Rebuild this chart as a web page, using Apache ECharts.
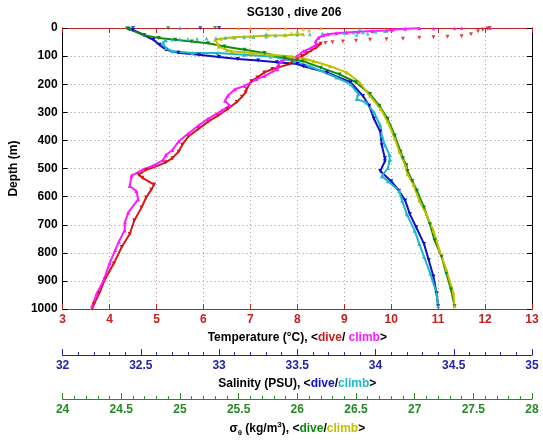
<!DOCTYPE html>
<html><head><meta charset="utf-8">
<script src="https://cdn.jsdelivr.net/npm/echarts@6/dist/echarts.min.js"></script>
<style>html,body{margin:0;padding:0;background:#fff}#c{width:543px;height:442px}</style>
</head><body><div id="c"></div>
<script>
// ---- data: [value, depth(m)] ----
const titleText = 'SG130 , dive 206';
const depthTicks = [0,100,200,300,400,500,600,700,800,900,1000];
const tempTicks = [3,4,5,6,7,8,9,10,11,12,13];
const salTicks = [32,32.5,33,33.5,34,34.5,35];
const sigTicks = [24,24.5,25,25.5,26,26.5,27,27.5,28];

const tempDiveTop = [[12.1,0],[12.05,2],[11.95,6],[11.85,12],[11.7,22],[11.5,29],[11.2,31],[10.9,33],[10.6,35],[10.25,38],[9.9,40],[9.55,42],[9.25,45],[8.97,48],[8.75,51],[8.6,53]];
const tempDive = [[8.5,56],[8.45,62],[8.4,70],[8.3,80],[8.2,90],[8.1,100],[8.0,110],[7.9,122],[7.84,128],[7.6,140],[7.47,146],[7.3,158],[7.15,176],[7.02,189],[6.92,218],[6.9,229],[6.82,245],[6.71,263],[6.52,288],[6.31,312],[6.1,333],[5.9,358],[5.68,386],[5.55,415],[5.47,440],[5.34,463],[5.2,478],[4.95,495],[4.78,504],[4.62,522],[4.7,533],[4.95,557],[4.89,575],[4.78,603],[4.68,639],[4.53,684],[4.43,733],[4.26,779],[4.09,838],[3.9,895],[3.78,944],[3.67,982],[3.63,998]];
const tempClimbTop = [[12.1,0],[11.5,0],[11.35,1],[10.9,2]];
const tempClimb = [[10.6,1],[10.3,3],[10.02,6],[9.9,9],[9.6,11],[9.3,13],[9.05,16],[8.83,19],[8.65,22],[8.56,25],[8.45,35],[8.39,48],[8.4,60],[8.3,70],[8.13,83],[7.99,101],[7.65,118],[7.58,136],[7.57,147],[7.3,171],[7.13,182],[6.88,206],[6.67,218],[6.52,241],[6.46,259],[6.56,276],[6.39,294],[6.1,323],[5.9,346],[5.68,375],[5.47,404],[5.34,434],[5.2,452],[5.14,470],[4.95,488],[4.7,505],[4.47,525],[4.43,562],[4.57,580],[4.61,610],[4.4,656],[4.33,691],[4.32,720],[4.2,760],[4.12,790],[4.0,838],[3.88,895],[3.73,944],[3.63,989]];

const salDiveTop = [[32.45,0],[33.0,0],[32.88,1]];
const salDive = [[32.42,3],[32.45,7],[32.52,25],[32.58,42],[32.62,60],[32.66,77],[32.74,88],[32.87,95],[33.0,103],[33.12,110],[33.25,116],[33.37,122],[33.5,128],[33.54,136],[33.69,158],[33.84,193],[33.92,242],[33.96,277],[33.99,323],[34.03,368],[34.04,417],[34.06,463],[34.06,474],[34.03,509],[34.1,545],[34.15,579],[34.19,614],[34.22,663],[34.26,709],[34.31,768],[34.34,825],[34.37,884],[34.39,944],[34.4,990]];
const salClimbTop = [[32.75,0],[33.9,3],[34.06,11],[34.0,13],[33.92,15],[33.86,16],[33.8,18],[33.95,20],[33.88,24],[33.66,20],[33.58,22],[33.5,23],[33.42,25],[33.36,27],[33.3,22],[33.3,30],[33.22,32],[33.16,33],[33.1,34],[33.04,35],[32.98,36],[32.92,37],[32.86,38],[32.8,39],[32.75,40],[32.7,41]];
const salClimb = [[32.66,44],[32.64,54],[32.66,71],[32.7,83],[32.83,89],[32.99,89],[33.16,95],[33.33,101],[33.48,118],[33.58,136],[33.75,176],[33.84,200],[33.89,235],[33.88,253],[33.94,265],[33.99,300],[34.03,346],[34.04,382],[34.06,417],[34.09,452],[34.09,470],[34.08,498],[34.04,527],[34.08,545],[34.15,579],[34.17,614],[34.2,663],[34.25,721],[34.28,768],[34.31,814],[34.35,873],[34.39,944],[34.4,990]];

const sigDiveTop = [[25.3,0],[24.9,1]];
const sigDive = [[24.55,2],[24.57,5],[24.69,25],[24.82,36],[24.96,42],[25.1,48],[25.24,54],[25.38,66],[25.55,77],[25.72,89],[25.89,106],[26.05,118],[26.2,141],[26.36,165],[26.5,193],[26.62,235],[26.7,277],[26.77,323],[26.83,382],[26.88,440],[26.9,463],[26.93,488],[26.94,509],[26.98,544],[27.02,579],[27.08,639],[27.13,698],[27.17,755],[27.23,814],[27.27,873],[27.31,930],[27.34,990]];
const sigClimbTop = [[25.5,0],[25.6,1],[25.75,2],[25.9,0],[26.05,3],[26.2,1],[26.1,8],[26.0,12],[25.95,18]];
const sigClimb = [[26.05,22],[25.9,26],[25.75,27],[25.6,30],[25.45,33],[25.35,38],[25.3,42],[25.32,55],[25.33,66],[25.4,78],[25.44,83],[25.61,89],[25.78,95],[25.95,101],[26.07,110],[26.14,118],[26.28,136],[26.42,158],[26.53,193],[26.62,242],[26.71,288],[26.77,333],[26.83,393],[26.87,440],[26.92,488],[26.94,520],[26.99,558],[27.04,614],[27.1,663],[27.16,721],[27.21,789],[27.27,860],[27.33,944],[27.34,990]];

// ---- styling ----
const FONT = 'Liberation Sans, Arial, sans-serif';
const RED = '#d21818', MAG = '#ff1aff', BLUE = '#1010c8', CYAN = '#20b8c8', GREEN = '#108a10', OLIVE = '#c0c000';
const AX_RED = '#c42020', AX_BLUE = '#2323a8', AX_GREEN = '#258a25';

function lineSeries(name, data, xi, color, dive) {
  return { name, type: 'line', data, xAxisIndex: xi, yAxisIndex: 0, showSymbol: true,
    symbol: 'triangle', symbolRotate: dive ? 180 : 0, symbolSize: 4,
    lineStyle: { color, width: 2 }, itemStyle: { color }, animation: false, silent: true, z: 3 };
}
function scatterSeries(name, data, xi, color, dive) {
  return { name, type: 'scatter', data, xAxisIndex: xi, yAxisIndex: 0,
    symbol: 'triangle', symbolRotate: dive ? 180 : 0, symbolSize: 4,
    itemStyle: { color }, animation: false, silent: true, z: 3 };
}
const baseLabel = { fontFamily: FONT, fontWeight: 'bold', fontSize: 12 };
const tok = (color, size) => ({ color, fontFamily: FONT, fontWeight: 'bold', fontSize: size || 12, lineHeight: 16 });

const chart = echarts.init(document.getElementById('c'), null, { renderer: 'canvas' });
chart.setOption({
  backgroundColor: '#fff',
  animation: false,
  grid: { left: 55, right: 11, top: 28, bottom: 129, containLabel: false },
  graphic: [{ type: 'text', x: 294, y: 13, style: { text: titleText, font: 'bold 12px ' + FONT, fill: '#000', align: 'center', verticalAlign: 'middle' } }],
  xAxis: [
    { type: 'value', min: tempTicks[0], max: tempTicks[tempTicks.length-1], interval: 1, position: 'bottom',
      axisLine: { onZero: false, lineStyle: { color: AX_RED, width: 1 } },
      axisTick: { inside: true, length: 5, lineStyle: { color: AX_RED } },
      axisLabel: Object.assign({ color: AX_RED, margin: 5 }, baseLabel),
      splitLine: { show: true, lineStyle: { color: '#b8a0a0', type: [1, 3], width: 1 } },
      name: '{k|Temperature (°C), <}{r|dive}{k|/ }{m|climb}{k|>}', nameLocation: 'middle', nameGap: 21,
      nameTextStyle: { rich: { k: tok('#000'), r: tok(AX_RED), m: tok(MAG) } } },
    { type: 'value', min: tempTicks[0], max: tempTicks[tempTicks.length-1], interval: 1, position: 'top',
      axisLine: { onZero: false, lineStyle: { color: AX_RED, width: 1 } },
      axisTick: { inside: true, length: 5, lineStyle: { color: AX_RED } },
      axisLabel: { show: false }, splitLine: { show: false } },
    { type: 'value', min: salTicks[0], max: salTicks[salTicks.length-1], interval: 0.5, position: 'bottom', offset: 46,
      axisLine: { onZero: false, lineStyle: { color: AX_BLUE, width: 1 } },
      axisTick: { inside: true, length: 6, lineStyle: { color: AX_BLUE } },
      minorTick: { show: true, splitNumber: 5, length: 3, lineStyle: { color: AX_BLUE } },
      axisLabel: Object.assign({ color: AX_BLUE, margin: 5 }, baseLabel),
      splitLine: { show: false },
      name: '{k|Salinity (PSU), <}{b|dive}{k|/}{c|climb}{k|>}', nameLocation: 'middle', nameGap: 21,
      nameTextStyle: { rich: { k: tok('#000'), b: tok(BLUE), c: tok(CYAN) } } },
    { type: 'value', min: sigTicks[0], max: sigTicks[sigTicks.length-1], interval: 0.5, position: 'bottom', offset: 90,
      axisLine: { onZero: false, lineStyle: { color: AX_GREEN, width: 1 } },
      axisTick: { inside: true, length: 6, lineStyle: { color: AX_GREEN } },
      minorTick: { show: true, splitNumber: 5, length: 3, lineStyle: { color: AX_GREEN } },
      axisLabel: Object.assign({ color: AX_GREEN, margin: 5 }, baseLabel),
      splitLine: { show: false },
      name: '{k|σ}{sub|θ}{k| (kg/m}{sup|3}{k|), <}{g|dive}{k|/}{y|climb}{k|>}', nameLocation: 'middle', nameGap: 21,
      nameTextStyle: { rich: {
        k: tok('#000'), g: tok(GREEN), y: tok(OLIVE),
        sub: { color: '#000', fontFamily: FONT, fontWeight: 'bold', fontSize: 8, verticalAlign: 'bottom', lineHeight: 10 },
        sup: { color: '#000', fontFamily: FONT, fontWeight: 'bold', fontSize: 8, verticalAlign: 'top', lineHeight: 10 } } } }
  ],
  yAxis: [
    { type: 'value', inverse: true, min: depthTicks[0], max: depthTicks[depthTicks.length-1], interval: 100, position: 'left',
      axisLine: { show: true, onZero: false, lineStyle: { color: '#000', width: 1 } },
      axisTick: { inside: true, length: 5, lineStyle: { color: '#000' } },
      axisLabel: Object.assign({ color: '#000', margin: 5, formatter: (v) => String(v) }, baseLabel),
      splitLine: { show: true, lineStyle: { color: '#909090', type: [1, 3], width: 1 } },
      name: 'Depth (m)', nameLocation: 'middle', nameGap: 38, nameRotate: 90,
      nameTextStyle: { color: '#000', fontFamily: FONT, fontWeight: 'bold', fontSize: 12 } },
    { type: 'value', inverse: true, min: depthTicks[0], max: depthTicks[depthTicks.length-1], interval: 100, position: 'right',
      axisLine: { show: true, onZero: false, lineStyle: { color: '#000', width: 1 } },
      axisTick: { inside: true, length: 5, lineStyle: { color: '#000' } },
      axisLabel: { show: false }, splitLine: { show: false } }
  ],
  series: [
    scatterSeries('tdTop', tempDiveTop, 0, RED, true),
    lineSeries('td', tempDive, 0, RED, true),
    scatterSeries('tcTop', tempClimbTop, 0, MAG, false),
    lineSeries('tc', tempClimb, 0, MAG, false),
    scatterSeries('sdTop', salDiveTop, 2, BLUE, true),
    lineSeries('sd', salDive, 2, BLUE, true),
    scatterSeries('scTop', salClimbTop, 2, CYAN, false),
    lineSeries('sc', salClimb, 2, CYAN, false),
    scatterSeries('gdTop', sigDiveTop, 3, GREEN, true),
    lineSeries('gd', sigDive, 3, GREEN, true),
    scatterSeries('gcTop', sigClimbTop, 3, OLIVE, false),
    lineSeries('gc', sigClimb, 3, OLIVE, false)
  ]
});
</script>
</body></html>
